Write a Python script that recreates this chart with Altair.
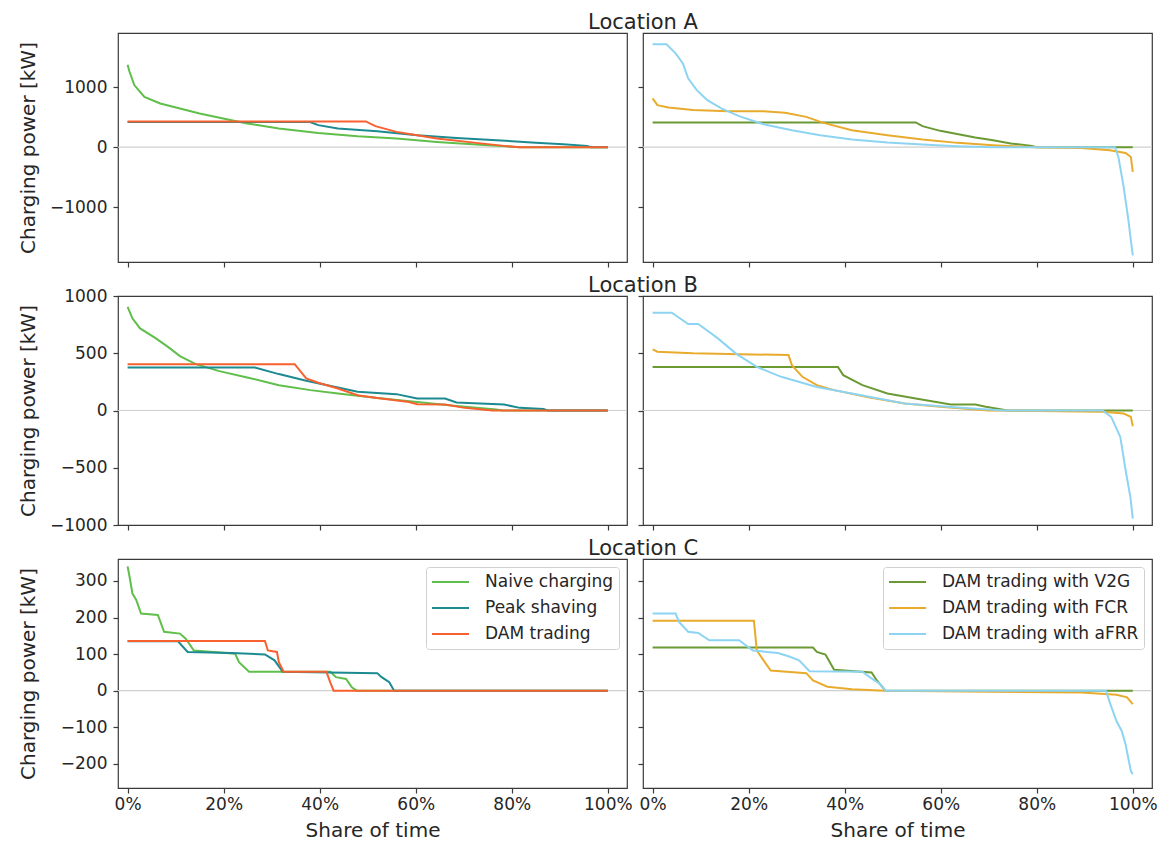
import altair as alt
import pandas as pd

# ---------------- data (share of time in %, charging power in kW) ----------------
X_TICKS = [0, 20, 40, 60, 80, 100]

# Location A
A_naive_x = [0, 0.4, 1.4, 3.5, 6.8, 10.9, 15, 19.9, 24.9, 31.5, 39.7, 47.9, 56, 64.4, 72.6, 81.7, 100]
A_naive_y = [1370, 1255, 1033, 838, 728, 645, 562, 478, 395, 312, 238, 183, 145, 88, 45, 0, 0]
A_peak_x = [0, 38, 39.7, 43.8, 52, 60.3, 68.5, 76.8, 85, 90.7, 95.7, 96.5, 100]
A_peak_y = [420, 420, 367, 312, 267, 200, 155, 117, 72, 50, 22, 0, 0]
A_dam_x = [0, 49.6, 51.6, 56, 60.3, 64.4, 72.6, 78.4, 81.7, 100]
A_dam_y = [428, 428, 350, 255, 200, 145, 72, 22, 0, 0]
A_v2g_x = [0, 54.8, 56.2, 59.9, 67.2, 70.9, 74.6, 79, 80, 100]
A_v2g_y = [412, 412, 350, 272, 162, 117, 62, 22, 0, 0]
A_fcr_x = [0, 1, 3.3, 8.4, 15.8, 23.1, 27.6, 32, 35.6, 41.5, 48.9, 56.2, 63.5, 70.9, 78.3, 80, 89.3, 95.2, 98.5, 99.6, 100]
A_fcr_y = [812, 700, 662, 617, 600, 600, 572, 505, 405, 283, 200, 128, 72, 33, 5, 0, -12, -50, -95, -162, -412]
A_afrr_x = [0, 2.9, 4.8, 6.3, 7.4, 9.2, 11.4, 14.3, 18, 23.1, 29, 34.9, 41.5, 48.9, 56.2, 63.5, 70.8, 96.3, 97, 98.1, 99, 99.6, 100]
A_afrr_y = [1712, 1712, 1562, 1395, 1145, 950, 783, 645, 517, 383, 283, 200, 128, 78, 45, 17, 0, 0, -162, -662, -1162, -1550, -1800]

# Location B
B_naive_x = [0, 1, 2.6, 5.9, 8.4, 10.9, 14.2, 19.1, 24.9, 31.5, 38.1, 43.8, 52, 60.3, 68.5, 76.8, 78, 100]
B_naive_y = [906, 805, 717, 630, 556, 475, 405, 344, 289, 221, 178, 149, 110, 75, 40, 9, 0, 0]
B_peak_x = [0, 26.5, 31.5, 37.2, 43.8, 47.9, 56, 60.3, 66.1, 68.5, 78.4, 81.7, 86.6, 87.5, 100]
B_peak_y = [376, 376, 318, 259, 201, 163, 143, 105, 105, 70, 52, 23, 14, 0, 0]
B_dam_x = [0, 34.8, 37.2, 39.7, 43.8, 47.9, 52, 58.6, 60.3, 66.1, 70.2, 76, 100]
B_dam_y = [405, 405, 280, 242, 192, 134, 110, 75, 55, 52, 23, 0, 0]
B_v2g_x = [0, 38.6, 39.7, 43.7, 48.9, 54.8, 62.1, 67.2, 69.4, 73.9, 100]
B_v2g_y = [381, 381, 309, 221, 149, 105, 52, 52, 32, 0, 0]
B_fcr_x = [0, 1, 8.4, 28.3, 29, 31.2, 34.2, 37.8, 45.2, 52.5, 59.9, 67.2, 70, 93.7, 98.1, 99.6, 100]
B_fcr_y = [534, 513, 499, 484, 396, 294, 221, 178, 114, 61, 32, 9, 0, -12, -26, -56, -137]
B_afrr_x = [0, 4, 7.4, 9.5, 13.6, 17.3, 21.7, 26.8, 34.2, 41.5, 52.5, 63.5, 73.1, 93.7, 95.5, 97.4, 98.5, 99.5, 100]
B_afrr_y = [854, 854, 755, 755, 630, 499, 381, 294, 206, 149, 61, 26, 0, 0, -56, -231, -522, -756, -945]

# Location C
C_naive_x = [0, 0.4, 1, 1.8, 2.8, 6.3, 7.6, 10.9, 12.1, 13.8, 22.4, 23.2, 25.3, 42.2, 43.4, 45.5, 46.7, 47.7, 100]
C_naive_y = [340, 312, 266, 248, 211, 207, 161, 156, 142, 110, 101, 78, 52, 52, 37, 32, 9, 0, 0]
C_peak_x = [0, 10.5, 12.5, 21.6, 28.6, 30.6, 32.3, 52, 52.9, 54.5, 55.5, 100]
C_peak_y = [135, 135, 106, 103, 99, 83, 52, 48, 37, 23, 0, 0]
C_dam_x = [0, 28.6, 29.2, 31.1, 31.5, 32.5, 41.4, 42.2, 42.9, 100]
C_dam_y = [136, 136, 110, 106, 78, 52, 52, 23, 0, 0]
C_v2g_x = [0, 33.4, 34.2, 36, 37.8, 45.6, 46.7, 48.5, 100]
C_v2g_y = [118, 118, 106, 99, 57, 50, 28, 0, 0]
C_fcr_x = [0, 21.1, 21.7, 23.1, 24.6, 32, 33.4, 36.4, 41.5, 48.5, 89.3, 96.6, 98.8, 100]
C_fcr_y = [191, 191, 110, 83, 55, 48, 28, 11, 4, 0, -5, -11, -18, -37]
C_afrr_x = [0, 4.8, 5.5, 7.4, 9.5, 11.8, 18, 20.9, 26.1, 28.3, 30.5, 32.7, 43.7, 45.2, 47.4, 48.5, 94.4, 95.2, 96.6, 97.7, 98.5, 99.6, 100]
C_afrr_y = [211, 211, 188, 161, 158, 138, 138, 110, 103, 94, 83, 53, 52, 37, 18, 0, 0, -32, -83, -110, -147, -220, -228]

LEFT_NAMES = ["Naive charging", "Peak shaving", "DAM trading"]
LEFT_COLORS = ["#5fbf4a", "#1b8a91", "#f8602f"]
RIGHT_NAMES = ["DAM trading with V2G", "DAM trading with FCR", "DAM trading with aFRR"]
RIGHT_COLORS = ["#6b9a35", "#e8ab2d", "#8dd4f2"]

ROW_TITLES = ["Location A", "Location B", "Location C"]
ROW_YDOM = [[-1910, 1900], [-1000, 1000], [-266, 360]]
ROW_YTICKS = [[-1000, 0, 1000], [-1000, -500, 0, 500, 1000], [-200, -100, 0, 100, 200, 300]]
ROW_LEFT = [
    [(A_naive_x, A_naive_y), (A_peak_x, A_peak_y), (A_dam_x, A_dam_y)],
    [(B_naive_x, B_naive_y), (B_peak_x, B_peak_y), (B_dam_x, B_dam_y)],
    [(C_naive_x, C_naive_y), (C_peak_x, C_peak_y), (C_dam_x, C_dam_y)],
]
ROW_RIGHT = [
    [(A_v2g_x, A_v2g_y), (A_fcr_x, A_fcr_y), (A_afrr_x, A_afrr_y)],
    [(B_v2g_x, B_v2g_y), (B_fcr_x, B_fcr_y), (B_afrr_x, B_afrr_y)],
    [(C_v2g_x, C_v2g_y), (C_fcr_x, C_fcr_y), (C_afrr_x, C_afrr_y)],
]

# ---------------- styling ----------------
FONT = "DejaVu Sans"
TXT = "#262626"
AX = "#3a3a3a"
W, H = 509, 229
XDOM = [-2, 104]


def panel(series, names, colors, ydom, yticks, is_left, is_bottom, title=None):
    x_axis = alt.Axis(
        values=X_TICKS,
        labelExpr="datum.value + '%'",
        labels=is_bottom,
        title="Share of time" if is_bottom else None,
        titleX=W / 2,
        titleY=48,
        titleBaseline="alphabetic",
        titleAlign="center",
        tickSize=5,
        labelPadding=3,
    )
    if is_left:
        y_axis = alt.Axis(
            values=yticks,
            format="d",
            title="Charging power [kW]",
            titleX=-84,
            titleY=H / 2,
            titleAngle=270,
            titleAlign="center",
            titleBaseline="alphabetic",
            tickSize=5,
            labelPadding=6,
        )
    else:
        y_axis = alt.Axis(values=yticks, labels=False, title=None, tickSize=5)

    legend = None
    if is_bottom:
        legend = alt.Legend(
            title=None,
            orient="top-right",
            offset=8,
            symbolType="stroke",
            symbolSize=1369,
            symbolStrokeWidth=2,
            clipHeight=20,
            rowPadding=6,
            padding=5,
            labelOffset=15,
            labelLimit=400,
            fillColor="white",
            strokeColor="#d0d0d0",
            cornerRadius=3,
        )

    xs = alt.X("x:Q", scale=alt.Scale(domain=XDOM, nice=False, zero=False), axis=x_axis)
    ys = alt.Y("y:Q", scale=alt.Scale(domain=ydom, nice=False, zero=False), axis=y_axis)

    zero = alt.Chart(pd.DataFrame({"y": [0]})).mark_rule(color="#cfcfcf", strokeWidth=1.2).encode(y=ys)
    layers = [zero]
    for name, (sx, sy) in zip(names, series):
        df = pd.DataFrame({"x": sx, "y": sy, "series": name, "i": list(range(len(sx)))})
        layers.append(
            alt.Chart(df).mark_line(strokeWidth=2).encode(
                x=xs,
                y=ys,
                color=alt.Color("series:N", scale=alt.Scale(domain=names, range=colors), legend=legend),
                order=alt.Order("i:Q"),
            )
        )
    if title is not None:
        layers.append(
            alt.Chart(pd.DataFrame({"t": [title]})).mark_text(
                align="center", baseline="alphabetic", fontSize=21, font=FONT, color=TXT
            ).encode(x=alt.value(0), y=alt.value(-4.5), text="t:N")
        )
    return alt.layer(*layers).properties(width=W, height=H)


panels = []
for r in range(3):
    bottom = r == 2
    panels.append(panel(ROW_LEFT[r], LEFT_NAMES, LEFT_COLORS, ROW_YDOM[r], ROW_YTICKS[r], True, bottom))
    panels.append(panel(ROW_RIGHT[r], RIGHT_NAMES, RIGHT_COLORS, ROW_YDOM[r], ROW_YTICKS[r], False, bottom, ROW_TITLES[r]))

chart = (
    alt.concat(*panels, columns=2, spacing={"row": 34, "column": 16}, bounds="flush")
    .resolve_scale(color="independent")
    .resolve_legend(color="independent")
    .properties(padding={"left": 9, "top": 2, "right": 5, "bottom": 0})
    .configure_axis(
        labelFont=FONT, titleFont=FONT, labelFontSize=17, titleFontSize=20,
        labelColor=TXT, titleColor=TXT, tickColor=AX, tickWidth=1.2,
        titleFontWeight="normal", grid=False, domain=False,
    )
    .configure_view(stroke=AX, strokeWidth=1.2)
    .configure_legend(labelFont=FONT, labelFontSize=17, labelColor=TXT)
)

chart.save("out.html", embed_options={"renderer": "svg", "actions": False})
